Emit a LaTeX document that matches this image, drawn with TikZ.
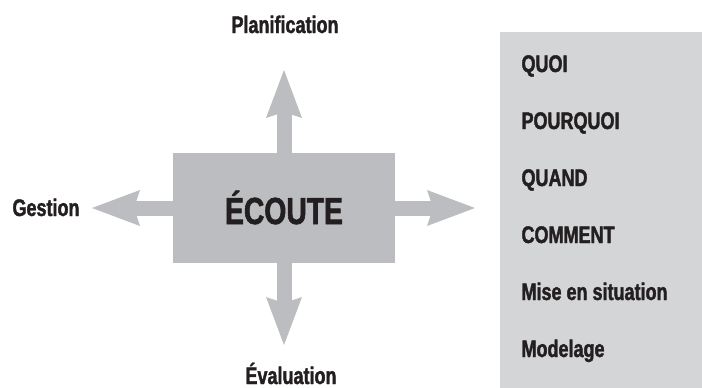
\documentclass[tikz,border=0pt]{standalone}
\usepackage{fontspec}
\newfontfamily\etroit{Liberation Sans Bold}[FakeStretch=0.75, FakeBold=1.6]
\usepackage{tikz}
\usetikzlibrary{arrows.meta}
\definecolor{boxgris}{RGB}{188,189,192}
\definecolor{listegris}{RGB}{212,213,215}
\definecolor{encre}{RGB}{35,31,32}
\tikzset{every node/.style={font=\etroit\fontsize{24}{26}\selectfont, text=encre},
  fleche/.style={boxgris, line width=15pt,
    -{Stealth[length=48pt, width=36pt, inset=6pt, line width=0pt 0]}},
  motif/.style={anchor=base west}}

\begin{document}
\begin{tikzpicture}[x=1pt, y=-1pt]
  \useasboundingbox (0,0) rectangle (702,388);
  % boite centrale et liste
  \node[fill=boxgris, minimum width=222pt, minimum height=110pt,
    text height=32pt, text depth=0pt,
    font=\etroit\fontsize{37.7}{40}\selectfont] (ecoute) at (284,208) {ÉCOUTE};
  \node[fill=listegris, anchor=north west, minimum width=202pt,
    minimum height=356pt] (liste) at (500,32) {};
  \foreach\t [count=\i] in {QUOI, POURQUOI, QUAND, COMMENT, Mise en situation, Modelage}
    \node[motif] (motif\i) at (518,{15+57*\i}) {\t};
  % fleches
  \coordinate (haut) at (284,70);
  \coordinate (bas) at (284,345);
  \coordinate (gauche) at (92,208);
  \coordinate (droite) at (475,208);
  \draw[fleche] (ecoute.north) -- (haut);
  \draw[fleche] (ecoute.south) -- (bas);
  \draw[fleche] (ecoute.west) -- (gauche);
  \draw[fleche] (ecoute.east) -- (droite);
  \node[anchor=base] (plan) at (285,33) {Planification};
  \node[anchor=base] (gest) at (46,216) {Gestion};
  \node[anchor=base] (eval) at (291,384) {Évaluation};
\end{tikzpicture}
\end{document}
